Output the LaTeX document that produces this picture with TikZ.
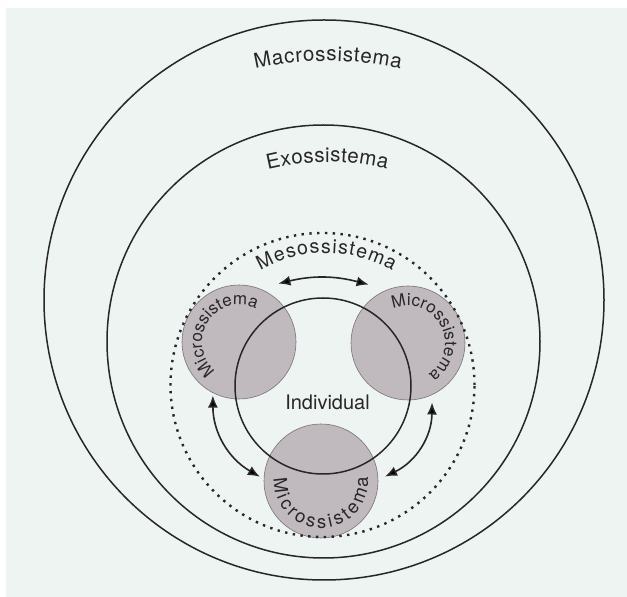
\documentclass[tikz,border=0pt]{standalone}
\usepackage{fontspec}
\setmainfont{TeX Gyre Heros}
\usetikzlibrary{arrows.meta, calc, decorations.text}
\definecolor{paper}{RGB}{238,244,242}
\definecolor{ink}{RGB}{40,38,38}
\definecolor{microfill}{RGB}{192,186,190}
\definecolor{microline}{RGB}{120,115,118}

\begin{document}
\begin{tikzpicture}[x=1pt, y=1pt,
    ring/.style={draw=ink, circle, line width=1.5pt, inner sep=0pt},
    dotring/.style={draw=ink, circle, line width=2.4pt, dash pattern=on 2.4pt off 5.4pt, inner sep=0pt},
    micro/.style={circle, fill=microfill, draw=microline, line width=0.6pt, minimum size=114pt, inner sep=0pt},
    link/.style={<->, >={Latex[length=12pt, width=10pt]}, draw=ink, line width=1.6pt},
    arclabel/.style 2 args={decorate, decoration={text along path, text align={fit to path}, text color=ink,
        text={|\fontsize{#1pt}{#1pt}\selectfont|#2}}}
]
    \useasboundingbox (0,0) rectangle (627,597);
    \fill[white] (0,0) rectangle (627,597);
    \fill[paper] (6,0) rectangle (627,589);

    \node[ring, minimum size=560pt] (macro) at (324,297) {};
    \node[ring, minimum size=433pt] (exo) at (323.5,255.5) {};
    \node[micro] (lmicro) at (239,255) {};
    \node[micro] (rmicro) at (408,254) {};
    \node[micro] (bmicro) at (321,116) {};
    \node[ring, minimum size=176pt] (ind) at (323,211) {};
    \node[dotring, minimum size=304pt] (meso) at (322.5,212) {};

    \coordinate (macc) at (328,206);
    \coordinate (exoc) at (327.5,185);
    \coordinate (mesoc) at (326.5,212);

    \path[arclabel={20.5}{Macrossistema}] ([shift={(102.7:330pt)}]macc) arc[start angle=102.7, end angle=77.3, radius=330pt];
    \path[arclabel={20.5}{Exossistema}] ([shift={(103.8:250pt)}]exoc) arc[start angle=103.8, end angle=76.2, radius=250pt];
    \path[arclabel={19.5}{Mesossistema}] ([shift={(120:132pt)}]mesoc) arc[start angle=120, end angle=60, radius=132pt];
    \path[arclabel={17}{Microssistema}] ([shift={(231:37pt)}]lmicro.center) arc[start angle=231, end angle=63, radius=37pt];
    \path[arclabel={17}{Microssistema}] ([shift={(114:37pt)}]rmicro.center) arc[start angle=114, end angle=-57, radius=37pt];
    \path[arclabel={18.5}{Microssistema}] ([shift={(177:47pt)}]bmicro.center) arc[start angle=177, end angle=365, radius=47pt];

    \node[font=\fontsize{20pt}{24pt}\selectfont, text=ink] (indlabel) at (327.5,195) {Individual};

    \draw[link] ($(lmicro.center)!1.23!(lmicro.56)$) to[bend left=14] ($(rmicro.center)!1.23!(rmicro.124)$);
    \draw[link] ($(lmicro.center)!1.04!(lmicro.244)$) to[bend right=30] ($(bmicro.center)!1.07!(bmicro.176)$);
    \draw[link] ($(rmicro.center)!1.12!(rmicro.292)$) to[bend left=32] ($(bmicro.center)!1.12!(bmicro.4)$);
\end{tikzpicture}
\end{document}
